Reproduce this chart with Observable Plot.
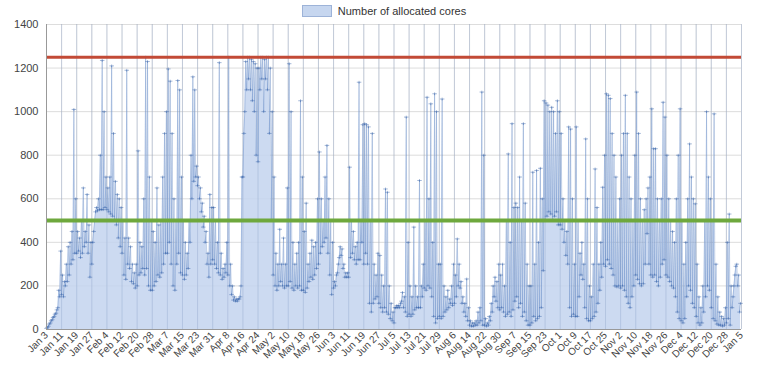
<!DOCTYPE html>
<html>
<head>
<meta charset="utf-8">
<script src="https://cdn.jsdelivr.net/npm/d3@7"></script>
<script src="https://cdn.jsdelivr.net/npm/@observablehq/plot@0.6"></script>
<style>
  html, body { margin: 0; padding: 0; background: #fff; }
  body { width: 768px; height: 382px; overflow: hidden; position: relative; font-family: "Liberation Sans", Arial, sans-serif; }
  #legend { position: absolute; left: 0; top: 2px; width: 768px; height: 18px; display: flex; align-items: center; justify-content: center; font-size: 11px; color: #333; z-index: 2; }
  #legend .sw { width: 28px; height: 10px; background: #c6d6ef; border: 1px solid #9db3d8; margin-right: 6px; }
  #chart { position: absolute; left: 0; top: 0; }
</style>
</head>
<body>
<div id="chart"></div>
<div id="legend"><span class="sw"></span><span>Number of allocated cores</span></div>
<script>
const seriesName = "Number of allocated cores";
const startDate = "2016-01-03";
const endDate = "2017-01-05";
const tickStepDays = 8;
const yTicks = [0, 200, 400, 600, 800, 1000, 1200, 1400];
const redLimit = 1250;
const greenLimit = 500;

// daily lower envelope (values of the series at each day's base)
const dailyLow = [
  5,15,30,45,60,75,100,150,
  160,150,200,220,250,300,320,350,
  350,360,330,350,380,400,350,240,
  300,450,540,545,550,550,550,560,
  550,540,530,520,500,480,420,380,
  350,250,230,300,280,220,210,190,
  200,250,260,280,250,280,200,180,
  180,200,220,250,240,260,300,350,
  350,400,300,200,180,300,350,260,
  250,230,250,280,400,600,680,700,
  660,600,540,470,400,300,240,300,
  320,300,280,260,250,230,240,260,
  250,200,160,135,130,130,140,200,
  700,1000,1100,1150,1100,1050,1000,800,
  770,1100,1150,1000,1150,1100,900,500,
  250,200,180,200,220,200,190,200,
  200,220,190,180,200,190,200,180,
  180,170,190,220,240,230,250,280,
  300,350,380,400,420,350,250,160,
  190,200,260,330,340,280,240,240,
  240,330,350,320,300,320,320,400,
  300,350,300,120,80,120,140,150,
  120,100,80,100,80,70,50,40,
  30,100,100,100,130,100,80,60,
  70,60,70,90,100,100,100,150,
  190,180,200,190,150,60,30,50,
  60,50,60,80,90,100,120,110,
  120,150,200,190,120,80,60,40,
  20,15,15,20,20,30,40,20,
  20,15,20,40,80,150,130,100,
  90,100,80,60,70,80,60,90,
  130,150,100,120,60,80,40,20,
  20,30,60,40,50,60,100,270,
  500,520,540,530,500,520,540,480,
  480,460,400,340,300,100,60,70,
  60,60,150,250,230,100,50,40,
  40,50,60,80,120,180,240,300,
  290,320,300,280,250,200,195,200,
  190,200,180,150,120,100,150,200,
  250,230,210,200,210,300,440,300,
  250,240,250,220,200,240,300,320,
  250,240,220,200,190,150,80,50,
  40,30,50,150,200,180,120,100,
  60,30,20,30,80,150,200,180,
  100,50,40,25,20,20,15,20,
  30,50,20,100,200,290,200,80
];
// daily peaks
const dailyHigh = [
  10,25,40,55,70,90,180,360,
  250,220,300,380,400,450,1010,600,
  450,420,500,650,450,620,480,400,
  400,500,560,600,800,1235,1000,700,
  650,700,1210,900,680,620,600,560,
  500,420,1190,420,380,300,260,300,
  820,400,380,600,1250,1230,700,500,
  450,400,650,480,500,700,900,1000,
  1196,1140,900,600,500,1143,1100,700,
  500,400,350,500,800,1160,1100,750,
  700,650,580,520,450,350,620,560,
  560,500,400,1225,350,280,300,400,
  1250,300,200,150,140,140,150,700,
  900,1230,1250,1250,1240,1230,1220,1200,
  1200,1250,1250,1240,1250,1250,1200,1000,
  700,350,300,460,300,420,300,650,
  1220,1000,400,300,350,400,1050,700,
  450,580,300,350,410,380,400,600,
  815,600,500,700,845,600,500,400,
  220,250,300,380,370,300,260,260,
  745,500,450,380,400,1135,500,940,
  945,940,930,500,900,300,250,350,
  340,250,200,645,630,200,120,80,
  100,110,110,120,170,150,975,400,
  200,150,470,200,150,684,200,300,
  500,1066,600,1036,400,1082,1000,300,
  300,1058,200,150,180,140,200,300,
  250,416,300,220,150,120,232,100,
  40,30,30,40,80,100,1090,800,
  50,30,60,120,200,240,220,300,
  250,300,200,500,806,400,945,560,
  580,560,700,500,945,580,300,200,
  200,722,300,730,400,740,600,1050,
  1040,1030,1000,1020,1000,900,1050,1000,
  900,600,500,450,930,920,600,300,
  930,500,350,400,300,875,600,200,
  150,300,737,560,300,400,653,800,
  1082,1075,1060,900,800,700,500,600,
  800,900,1075,900,700,600,500,800,
  1090,900,600,500,550,600,650,700,
  1013,830,830,600,500,600,1043,975,
  800,600,500,450,400,600,800,1013,
  500,300,400,600,852,700,600,577,
  300,150,100,200,500,1000,700,600,
  500,990,300,150,80,60,50,100,
  400,530,200,150,250,300,250,120
];

const t0 = new Date(startDate + "T00:00:00Z");
const t1 = new Date(endDate + "T00:00:00Z");
const data = [];
dailyLow.forEach((lo, i) => {
  const d = d3.utcDay.offset(t0, i);
  data.push({date: d, cores: lo});
  data.push({date: d3.utcHour.offset(d, 12), cores: dailyHigh[i]});
});
const nTicks = Math.round((t1 - t0) / 864e5 / tickStepDays);
const xTicks = d3.range(nTicks + 1).map(k => d3.utcDay.offset(t0, k * tickStepDays));
const fmt = d3.utcFormat("%b %-d");

const cross = {
  draw(ctx, size) {
    const r = Math.sqrt(size) / 2;
    ctx.moveTo(-r * 1.6, 0); ctx.lineTo(r * 1.6, 0);
    ctx.moveTo(0, -r); ctx.lineTo(0, r);
  }
};

const chart = Plot.plot({
  width: 768,
  height: 382,
  marginTop: 24,
  marginLeft: 46,
  marginRight: 27,
  marginBottom: 53,
  style: {fontFamily: "Liberation Sans, Arial, sans-serif", fontSize: "11px", color: "#444", background: "#fff"},
  x: {type: "utc", domain: [t0, t1]},
  y: {domain: [0, 1400]},
  marks: [
    Plot.gridY(yTicks, {stroke: "#bbb", strokeOpacity: 0.5}),
    Plot.gridX(xTicks, {stroke: "#bbb", strokeOpacity: 0.5}),
    Plot.areaY(data, {x: "date", y: "cores", fill: "#c3d4ee", fillOpacity: 0.85}),
    Plot.gridX(xTicks, {stroke: "#8fa7cf", strokeOpacity: 0.35}),
    Plot.lineY(data, {x: "date", y: "cores", stroke: "#5a80c0", strokeWidth: 0.5, strokeOpacity: 0.7}),
    Plot.dot(data, {x: "date", y: "cores", symbol: cross, r: 1.6, stroke: "#2d5ba6", strokeWidth: 0.8, strokeOpacity: 0.55, fill: "none"}),
    Plot.ruleY([redLimit], {stroke: "#c24a36", strokeWidth: 3}),
    Plot.ruleY([greenLimit], {stroke: "#6ea83d", strokeWidth: 4}),
    Plot.ruleY([0], {stroke: "#999", strokeWidth: 1}),
    Plot.ruleX([t0], {stroke: "#999", strokeWidth: 1}),
    Plot.axisY({ticks: yTicks, tickFormat: d => String(d), tickSize: 0, tickPadding: 8, label: null, fontSize: 11}),
    Plot.axisX({ticks: xTicks, tickFormat: fmt, tickRotate: -45, tickSize: 0, tickPadding: 4, label: null, fontSize: 10})
  ]
});
document.getElementById("chart").appendChild(chart);
</script>
</body>
</html>
